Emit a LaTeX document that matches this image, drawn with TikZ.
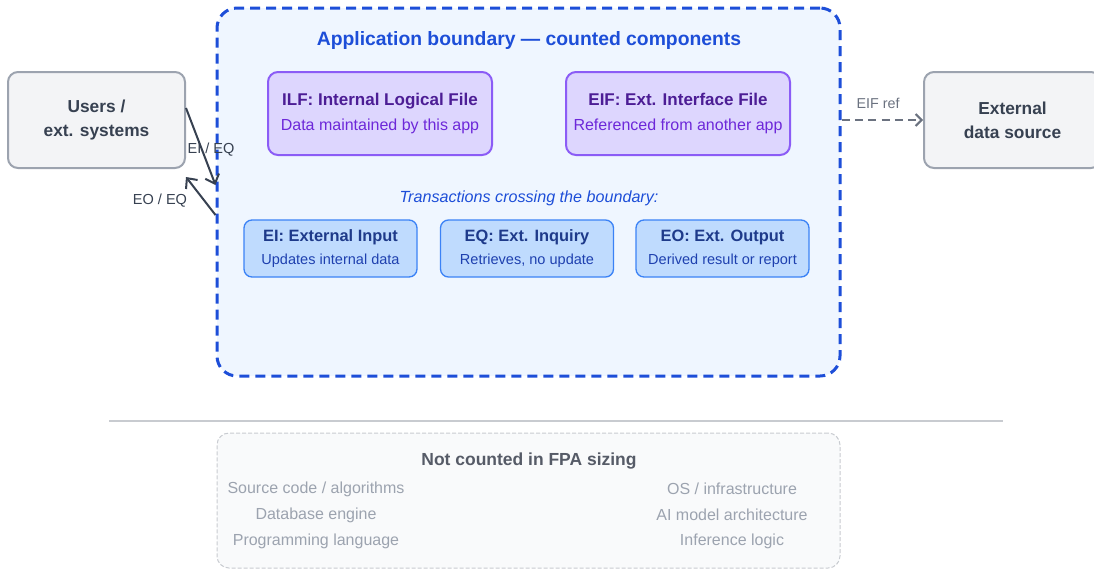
\documentclass[tikz,border=0pt]{standalone}
\usepackage{fontspec}
\setmainfont{Liberation Sans}
\usetikzlibrary{arrows.meta,positioning}

\definecolor{bndblue}{HTML}{1D4ED8}
\definecolor{bndfill}{HTML}{EFF6FF}
\definecolor{filefill}{HTML}{DDD6FE}
\definecolor{fileline}{HTML}{8B5CF6}
\definecolor{filetitle}{HTML}{4C1D95}
\definecolor{filesub}{HTML}{6D28D9}
\definecolor{txfill}{HTML}{BFDBFE}
\definecolor{txline}{HTML}{3B82F6}
\definecolor{txtitle}{HTML}{1E3A8A}
\definecolor{txsub}{HTML}{1E40AF}
\definecolor{extfill}{HTML}{F3F4F6}
\definecolor{extline}{HTML}{9CA3AF}
\definecolor{darktext}{HTML}{374151}
\definecolor{mutedgray}{HTML}{9CA3AF}
\definecolor{midgray}{HTML}{6B7280}
\definecolor{sepgray}{HTML}{C8CBD0}
\definecolor{nofill}{HTML}{F9FAFB}

\tikzset{
	filebox/.style={draw=fileline,fill=filefill,line width=1.5pt,rounded corners=7.5pt,
		minimum width=168pt,minimum height=62.25pt,align=center},
	txbox/.style={draw=txline,fill=txfill,line width=1pt,rounded corners=6pt,
		minimum width=129.75pt,minimum height=42.75pt,align=center},
	extbox/.style={draw=extline,fill=extfill,line width=1.5pt,rounded corners=7.5pt,
		minimum width=132.75pt,minimum height=72pt,align=center,
		font=\fontsize{13}{18}\selectfont\bfseries,text=darktext},
	flow/.style={draw=darktext,line width=1.5pt,-{Straight Barb[length=6pt,width=11pt]}},
	flowlabel/.style={font=\fontsize{10.9}{12}\selectfont,text=darktext},
	muted/.style={font=\fontsize{12}{14}\selectfont,text=mutedgray}
}

\begin{document}
\begin{tikzpicture}[x=0.75pt,y=-0.75pt]
	\useasboundingbox (0,0) rectangle (1094,569);
	
	% application boundary
	\node[draw=bndblue,fill=bndfill,line width=2.25pt,dash pattern=on 7.5pt off 4.5pt,
		rounded corners=15pt,minimum width=467.25pt,minimum height=276pt] (boundary) at (528.5,192) {};
	\node[font=\fontsize{14.5}{17}\selectfont\bfseries,text=bndblue] (bndtitle) at (529,40) {Application boundary — counted components};
	
	\node[filebox] (ilf) at (380,113.5) {{\fontsize{12.75}{15}\selectfont\bfseries\color{filetitle}ILF: Internal Logical File}\\[7pt]{\fontsize{12}{14}\selectfont\color{filesub}Data maintained by this app}};
	\node[filebox] (eif) at (678,113.5) {{\fontsize{12.75}{15}\selectfont\bfseries\color{filetitle}EIF: Ext. Interface File}\\[7pt]{\fontsize{12}{14}\selectfont\color{filesub}Referenced from another app}};
	
	\node[font=\fontsize{12.1}{14}\selectfont\itshape,text=bndblue] (txtitle) at (529,198) {Transactions crossing the boundary:};
	
	\node[txbox] (ei) at (330.5,248.5) {{\fontsize{12.3}{14}\selectfont\bfseries\color{txtitle}EI: External Input}\\[5.5pt]{\fontsize{10.9}{12}\selectfont\color{txsub}Updates internal data}};
	\node[txbox] (eq) at (527,248.5) {{\fontsize{12.3}{14}\selectfont\bfseries\color{txtitle}EQ: Ext. Inquiry}\\[5.5pt]{\fontsize{10.9}{12}\selectfont\color{txsub}Retrieves, no update}};
	\node[txbox] (eo) at (722.5,248.5) {{\fontsize{12.3}{14}\selectfont\bfseries\color{txtitle}EO: Ext. Output}\\[5.5pt]{\fontsize{10.9}{12}\selectfont\color{txsub}Derived result or report}};
	
	% outside the boundary
	\node[extbox] (users) at (96.5,120) {Users /\\ext. systems};
	\node[extbox] (extsrc) at (1012.5,120) {External\\data source};
	
	\draw[flow] ([yshift=9pt]users.east) -- (boundary.west |- 0,185);
	\draw[flow] (boundary.west |- 0,215) -- ([yshift=-6pt]users.south east);
	\node[flowlabel] (eilabel) at (211,150) {EI / EQ};
	\node[flowlabel] (eolabel) at (160,201) {EO / EQ};
	
	\draw[draw=midgray,line width=1.5pt,dash pattern=on 6pt off 4pt,-{Straight Barb[length=4.5pt,width=9pt]}] (boundary.east |- 0,120) -- (extsrc.west);
	\node[font=\fontsize{10.75}{12}\selectfont,text=midgray] (eiflabel) at (878,103) {EIF ref};
	
	% not counted
	\draw[sepgray,line width=1.5pt] (109,421) -- (1003,421);
	\node[draw=sepgray,fill=nofill,line width=0.75pt,dash pattern=on 3pt off 1.5pt,
		rounded corners=9pt,minimum width=467.25pt,minimum height=101.25pt] (notcounted) at (528.5,500.5) {};
	\node[font=\fontsize{13.1}{15}\selectfont\bfseries,text=midgray!80!black] (nctitle) at (529,461) {Not counted in FPA sizing};
	\node[muted] (nc1) at (316,489) {Source code / algorithms};
	\node[muted] (nc2) at (316,515) {Database engine};
	\node[muted] (nc3) at (316,541) {Programming language};
	\node[muted] (nc4) at (732,489) {OS / infrastructure};
	\node[muted] (nc5) at (732,515) {AI model architecture};
	\node[muted] (nc6) at (732,541) {Inference logic};
\end{tikzpicture}
\end{document}
